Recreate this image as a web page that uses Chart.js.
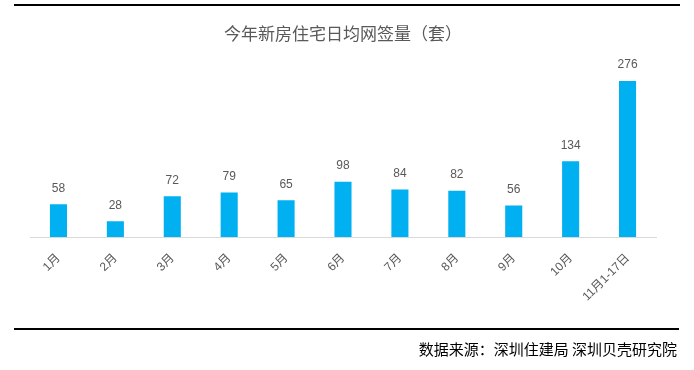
<!DOCTYPE html>
<html><head><meta charset="utf-8">
<script src="https://cdn.jsdelivr.net/npm/chart.js@4.4.0/dist/chart.umd.min.js"></script>
<style>
html,body{margin:0;padding:0;background:#fff;}
#wrap{position:relative;width:694px;height:370px;overflow:hidden;}
#c{position:absolute;left:0;top:0;}
.hline{position:absolute;height:2px;background:#000;}
#src{position:absolute;right:17px;top:340px;font:15px "Noto Sans CJK SC",sans-serif;color:#000;line-height:18px;}
</style></head><body>
<div id="wrap">
<canvas id="c" width="694" height="370"></canvas>
<div class="hline" style="left:14px;width:666px;top:4px;"></div>
<div class="hline" style="left:14px;width:665px;top:328px;"></div>
<div id="src">数据来源：深圳住建局 深圳贝壳研究院</div>
</div>
<script>
const categories = ['1月','2月','3月','4月','5月','6月','7月','8月','9月','10月','11月1-17日'];
const values = [58,28,72,79,65,98,84,82,56,134,276];
const chartTitle = '今年新房住宅日均网签量（套）';

const valueLabels = {
  id:'valueLabels',
  afterDatasetsDraw(chart){
    const ctx = chart.ctx;
    const meta = chart.getDatasetMeta(0);
    ctx.save();
    ctx.font = '12px "Liberation Sans","Noto Sans CJK SC",sans-serif';
    ctx.fillStyle = '#595959';
    ctx.textAlign = 'center';
    ctx.textBaseline = 'bottom';
    meta.data.forEach((bar,i)=>{
      ctx.fillText(String(values[i]), bar.x, bar.y - 10);
    });
    ctx.restore();
  }
};

new Chart(document.getElementById('c'), {
  type:'bar',
  data:{labels:categories, datasets:[{data:values, backgroundColor:'#00B0F0', barPercentage:0.3, categoryPercentage:1}]},
  options:{
    responsive:false, animation:false,
    layout:{padding:{left:30, right:38, top:0, bottom:60}},
    plugins:{
      legend:{display:false}, tooltip:{enabled:false},
      title:{display:true, text:chartTitle, color:'#595959',
        font:{size:17, family:'"Noto Sans CJK SC",sans-serif', weight:'normal', lineHeight:1.2},
        padding:{top:23, bottom:24}}
    },
    scales:{
      x:{grid:{display:false}, border:{display:true, color:'#d9d9d9', width:1},
        ticks:{minRotation:45, maxRotation:45, color:'#595959', padding:6,
          font:{size:12, family:'"Liberation Sans","Noto Sans CJK SC",sans-serif'}}},
      y:{display:false, min:0, max:300}
    }
  },
  plugins:[valueLabels]
});
</script>
</body></html>
